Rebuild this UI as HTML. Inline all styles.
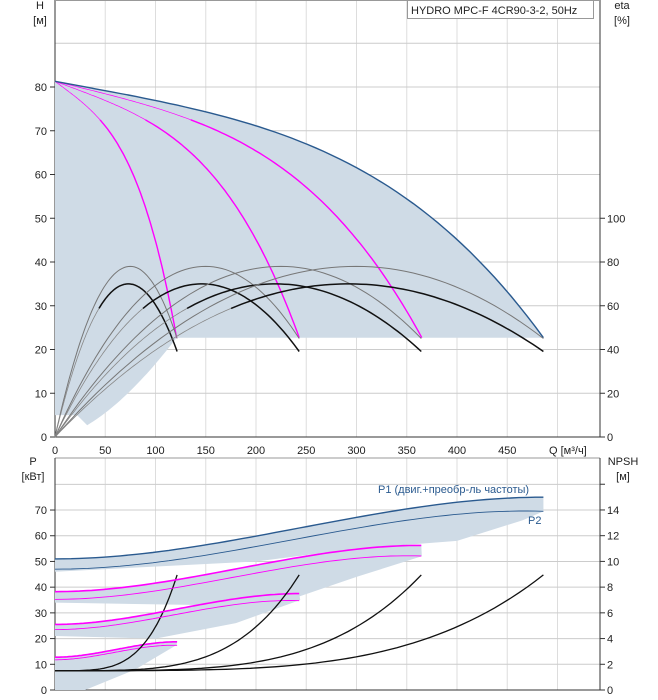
<!DOCTYPE html>
<html><head><meta charset="utf-8">
<style>
html,body{margin:0;padding:0;background:#fff;}
svg{display:block;font-family:"Liberation Sans",sans-serif;font-size:11px;fill:#222;}
</style></head>
<body>
<svg id="s" width="658" height="700" viewBox="0 0 658 700" xmlns="http://www.w3.org/2000/svg">
<g id="grid"></g>
<g id="shade"></g>
<g id="curves"></g>
<g id="txt">
<text x="40" y="9" text-anchor="middle">H</text>
<text x="40" y="24" text-anchor="middle">[м]</text>
<text x="622" y="9" text-anchor="middle">eta</text>
<text x="622" y="24" text-anchor="middle">[%]</text>
<rect x="407.5" y="0.5" width="186" height="18" fill="#fff" stroke="#999"/>
<text x="411" y="14">HYDRO MPC-F 4CR90-3-2, 50Hz</text>
<text x="549" y="454">Q [м³/ч]</text>
<text x="33" y="465" text-anchor="middle">P</text>
<text x="33" y="480" text-anchor="middle">[кВт]</text>
<text x="623" y="465" text-anchor="middle">NPSH</text>
<text x="623" y="480" text-anchor="middle">[м]</text>
<text x="378" y="493" style="fill:#2a5a8f">P1 (двиг.+преобр-ль частоты)</text>
<text x="528" y="524" style="fill:#2a5a8f">P2</text>
</g>
</svg>
<script>
var NS="http://www.w3.org/2000/svg";
function el(g,tag,a,t){var e=document.createElementNS(NS,tag);for(var k in a)e.setAttribute(k,a[k]);if(t!==undefined)e.textContent=t;document.getElementById(g).appendChild(e);return e;}
function X(q){return 55+q*1.005;}
function YH(h){return 437-h*4.375;}
function YE(e){return 437-e*2.1875;}
function YP(p){return 690-p*2.571;}
function YN(n){return 690-n*12.86;}
for(var q=50;q<=500;q+=50){el("grid","line",{x1:X(q),y1:0,x2:X(q),y2:437,stroke:"#ddd"});el("grid","line",{x1:X(q),y1:458,x2:X(q),y2:690,stroke:"#ddd"});}
for(var h=10;h<=90;h+=10){el("grid","line",{x1:55,y1:YH(h),x2:600,y2:YH(h),stroke:"#ccc"});}
for(var h=0;h<=80;h+=10){el("grid","line",{x1:50,y1:YH(h),x2:55,y2:YH(h),stroke:"#333"});el("txt","text",{x:47,y:YH(h)+4,"text-anchor":"end"},h);}
for(var e=0;e<=100;e+=20){el("grid","line",{x1:600,y1:YE(e),x2:605,y2:YE(e),stroke:"#333"});el("txt","text",{x:607,y:YE(e)+4},e);}
for(var q=0;q<=450;q+=50){el("txt","text",{x:X(q),y:454,"text-anchor":"middle"},q);}
el("grid","line",{x1:55,y1:0,x2:55,y2:437,stroke:"#333"});
el("grid","line",{x1:55,y1:437,x2:600,y2:437,stroke:"#333"});
el("grid","line",{x1:600,y1:0,x2:600,y2:437,stroke:"#333"});
el("grid","line",{x1:55,y1:0.5,x2:600,y2:0.5,stroke:"#999"});
for(var p=10;p<=80;p+=10){el("grid","line",{x1:55,y1:YP(p),x2:600,y2:YP(p),stroke:"#ccc"});}
for(var p=0;p<=70;p+=10){el("grid","line",{x1:50,y1:YP(p),x2:55,y2:YP(p),stroke:"#333"});el("txt","text",{x:47,y:YP(p)+4,"text-anchor":"end"},p);}
for(var n=0;n<=16;n+=2){el("grid","line",{x1:600,y1:YN(n),x2:605,y2:YN(n),stroke:"#333"});if(n<16)el("txt","text",{x:607,y:YN(n)+4},n);}
el("grid","line",{x1:55,y1:458,x2:600,y2:458,stroke:"#999"});
el("grid","line",{x1:55,y1:458,x2:55,y2:690,stroke:"#333"});
el("grid","line",{x1:55,y1:690,x2:600,y2:690,stroke:"#333"});
el("grid","line",{x1:600,y1:458,x2:600,y2:690,stroke:"#333"});

function pts(f,a,b,Y,N){N=N||60;var r=[];for(var i=0;i<=N;i++){var q=a+(b-a)*i/N;r.push(X(q).toFixed(1)+","+Y(f(q)).toFixed(1));}return r;}
function line(g,p,c,w){el(g,"polyline",{points:p.join(" "),fill:"none",stroke:c,"stroke-width":w});}
function poly(g,p,c){el(g,"polygon",{points:p.join(" "),fill:c});}
var SH="#cfdbe6";
function Hn(qe){return function(q){var t=q/qe;return 81.3-20.6*t-38*Math.pow(t,3.5);};}
var Hmax=Hn(486);
var sp=pts(Hmax,0,486,YH);
sp.push(X(120)+","+YH(22.7));
var Hl=function(q){var t=q/121;return 22.7*Math.pow(t,1.6);};
sp=sp.concat(pts(Hl,121,32,YH,30));
sp.push(X(22)+","+YH(5));sp.push(X(0)+","+YH(5));
poly("shade",sp,SH);
[121,243,365].forEach(function(qe){var f=Hn(qe);line("curves",pts(f,0,qe*0.37,YH),"#f0f","0.7");line("curves",pts(f,qe*0.37,qe,YH),"#f0f","1.4");});
line("curves",pts(Hmax,0,486,YH),"#2a5a8f","1.4");
[1,2,3,4].forEach(function(n){
 var qe=121.5*n,qp=75*n,qp2=73*n;
 var thin=function(q){var t=q/qp-1;var k=t<0?1:1.1;return 78*(1-k*t*t);};
 var thick=function(q){var t=q/qp2-1;var k=t<0?1:1.0;return 70*(1-k*t*t);};
 line("curves",pts(thin,0,qe,YE),"#777","1");
 line("curves",pts(thick,0,qp2*0.6,YE),"#888","0.8");
 line("curves",pts(thick,qp2*0.6,qe,YE),"#111","1.5");
});
function P1(q){var t=q/486;return 51+24*(3*t*t-2*t*t*t);}
function P2(q){var t=q/486;return 47+24*(3*t*t-2*t*t*t)-1.5*t*t*t*t;}
var lows={1:[[0,0],[30,0],[80,8],[121,17.5]],2:[[0,21],[100,20],[180,26],[244,35]],3:[[0,34],[150,33],[240,36],[300,44],[365,52]],4:[[0,46],[200,50],[300,55],[400,58],[465,66],[486,69.5]]};
[4,3,2,1].forEach(function(n){
 var s=n/4,qe=486*s;
 var f1=function(q){return P1(q/s)*s;};
 var p=pts(f1,0,qe,YP,40);
 var L=lows[n].slice().reverse();
 L.forEach(function(a){p.push(X(a[0])+","+YP(a[1]));});
 poly("shade",p,SH);
});
[1,2,3,4].forEach(function(n){
 var s=n/4,qe=486*s;
 var f1=function(q){return P1(q/s)*s;},f2=function(q){return P2(q/s)*s;};
 var c=n==4?"#2a5a8f":"#f0f";
 line("curves",pts(f1,0,qe,YP),c,n==4?"1.4":"1.6");
 line("curves",pts(f2,0,qe,YP),c,"0.9");
 var np=function(q){var t=q/qe;return 1.5+7.45*Math.pow(t,4);};
 line("curves",pts(np,0,qe,YN),"#111","1.3");
});
</script>
</body></html>
